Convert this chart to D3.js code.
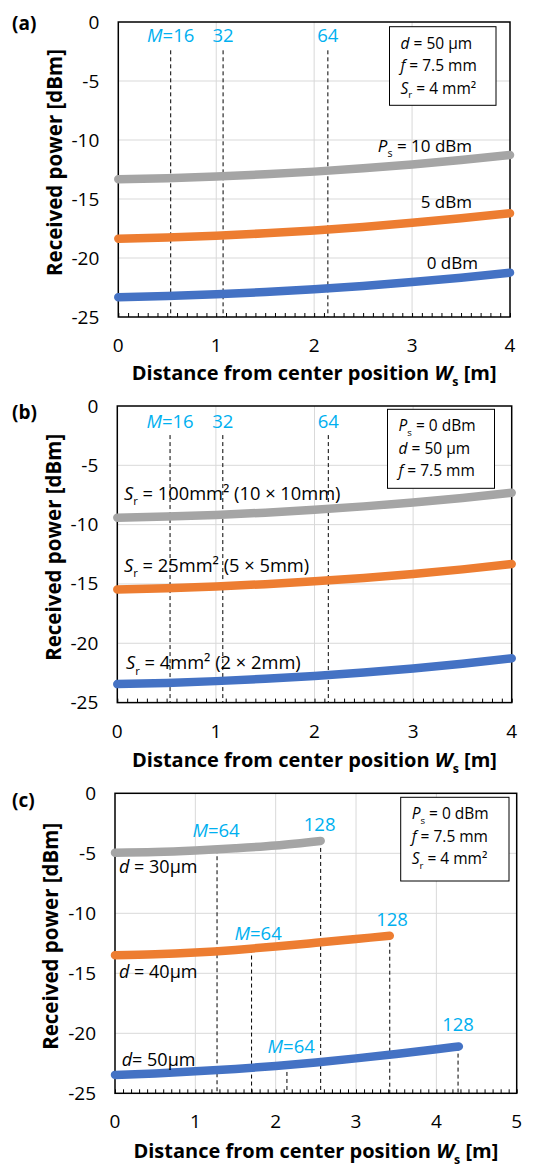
<!DOCTYPE html>
<html>
<head>
<meta charset="utf-8">
<script src="https://cdn.jsdelivr.net/npm/d3@7"></script>
<style>
  body { margin: 0; background: #fff; }
  svg { display: block; font-family: "Open Sans", "Noto Sans", sans-serif; }
</style>
</head>
<body>
<div id="chart"></div>
<script>
// ---- data ----
// (a) received power vs distance, for source power Ps = 0, 5, 10 dBm
const xsA = [0, 0.5, 1, 1.5, 2, 2.5, 3, 3.5, 4];
const aPs0 = [-23.33, -23.23, -23.08, -22.89, -22.65, -22.37, -22.04, -21.67, -21.24];
const aPs5 = [-18.36, -18.26, -18.11, -17.91, -17.66, -17.37, -17.02, -16.63, -16.21];
const aPs10 = [-13.33, -13.24, -13.10, -12.91, -12.68, -12.40, -12.07, -11.69, -11.27];
const mA = [0.535, 1.07, 2.14];               // M = 16, 32, 64
const mLabelsA = ["=16", "32", "64"];

// (b) receiver area Sr = 4, 25, 100 mm2
const xsB = [0, 0.5, 1, 1.5, 2, 2.5, 3, 3.5, 4];
const bSr4 = [-23.44, -23.34, -23.19, -22.99, -22.75, -22.46, -22.12, -21.73, -21.27];
const bSr25 = [-15.46, -15.36, -15.21, -15.02, -14.78, -14.50, -14.16, -13.77, -13.32];
const bSr100 = [-9.42, -9.32, -9.18, -8.99, -8.75, -8.46, -8.13, -7.75, -7.31];
const mB = [0.535, 1.07, 2.14];

// (c) core diameter d = 30, 40, 50 um
const xsC30 = [0, 0.5, 1, 1.5, 2, 2.56];
const cD30 = [-4.95, -4.89, -4.76, -4.58, -4.35, -3.97];
const xsC40 = [0, 0.5, 1, 1.5, 2, 2.5, 3, 3.42];
const cD40 = [-13.50, -13.42, -13.27, -13.05, -12.77, -12.46, -12.14, -11.87];
const xsC50 = [0, 0.5, 1, 1.5, 2, 2.5, 3, 3.5, 4, 4.28];
const cD50 = [-23.47, -23.34, -23.17, -22.97, -22.72, -22.43, -22.09, -21.72, -21.33, -21.10];
const mC30 = [1.27, 2.56];                    // M = 64, 128
const mC40 = [1.70, 3.42];
const mC50 = [2.14, 4.27];

const yTicks = [0, -5, -10, -15, -20, -25];

const GRAY = "#A5A5A5", ORANGE = "#ED7D31", BLUE = "#4472C4", CYAN = "#00B0F0";

const svg = d3.select("#chart").append("svg")
    .attr("width", 541)
    .attr("height", 1164);

// text with italic / subscript parts: [[text, "i"|"sub"|undefined], ...]
function rich(g, x, y, parts, size, opts = {}) {
    const t = g.append("text")
        .attr("x", x).attr("y", y)
        .attr("font-size", size)
        .attr("text-anchor", opts.anchor || "start")
        .attr("fill", opts.color || "#000")
        .attr("font-weight", opts.bold ? "bold" : null);
    let shift = 0;
    parts.forEach(p => {
        const s = t.append("tspan").text(p[0]);
        let dy;
        if (p[1] === "sub") {
            dy = size * 0.3 - shift; shift = size * 0.3;
            s.attr("font-size", size * 0.62);
        } else {
            dy = -shift; shift = 0;
            if (p[1] === "i") s.attr("font-style", "italic");
        }
        if (dy) s.attr("dy", dy);
    });
    return t;
}

function panel(cfg) {
    const g = svg.append("g");
    const x = d3.scaleLinear().domain([0, cfg.xMax]).range([cfg.left, cfg.right]);
    const y = d3.scaleLinear().domain([-25, 0]).range([cfg.bottom, cfg.top]);

    // gridlines
    g.append("g").selectAll("line.h").data(yTicks.slice(1, -1)).join("line")
        .attr("x1", cfg.left).attr("x2", cfg.right)
        .attr("y1", d => y(d)).attr("y2", d => y(d))
        .attr("stroke", "#D9D9D9").attr("stroke-width", 1);
    g.append("g").selectAll("line.v").data(d3.range(1, cfg.xMax)).join("line")
        .attr("x1", d => x(d)).attr("x2", d => x(d))
        .attr("y1", cfg.top).attr("y2", cfg.bottom)
        .attr("stroke", "#D9D9D9").attr("stroke-width", 1);

    // minor ticks every 0.1, pointing inward
    const xAxis = g.append("g")
        .attr("transform", `translate(0,${cfg.bottom})`)
        .call(d3.axisTop(x).tickValues(d3.range(0, cfg.xMax * 10 + 1).map(i => i / 10))
            .tickSize(4).tickFormat(""));
    xAxis.select(".domain").remove();
    xAxis.selectAll("line").attr("stroke", "#000").attr("stroke-width", 1);

    // frame
    g.append("rect")
        .attr("x", cfg.left).attr("y", cfg.top)
        .attr("width", cfg.right - cfg.left).attr("height", cfg.bottom - cfg.top)
        .attr("fill", "none").attr("stroke", "#000").attr("stroke-width", 1.5);

    // tick labels
    g.append("g").selectAll("text").data(yTicks).join("text")
        .attr("x", cfg.left - 19).attr("y", d => y(d) + 6.5)
        .attr("text-anchor", "end").attr("font-size", 19)
        .text(d => d);
    g.append("g").selectAll("text").data(d3.range(0, cfg.xMax + 1)).join("text")
        .attr("x", d => x(d)).attr("y", cfg.bottom + 35)
        .attr("text-anchor", "middle").attr("font-size", 19)
        .text(d => d);

    // axis titles
    rich(g, (cfg.left + cfg.right) / 2, cfg.bottom + cfg.xTitleDy,
        [["Distance from center position "], ["W", "i"], ["s", "sub"], [" [m]"]],
        20, {anchor: "middle", bold: true});
    g.append("text")
        .attr("transform", `translate(${cfg.yTitleX},${(cfg.top + cfg.bottom) / 2 - 7}) rotate(-90)`)
        .attr("text-anchor", "middle").attr("font-size", 20.5).attr("font-weight", "bold")
        .text("Received power [dBm]");

    // panel tag
    g.append("text").attr("x", 12).attr("y", cfg.tagY)
        .attr("font-size", 19).attr("font-weight", "bold").text(cfg.tag);

    // dashed markers
    cfg.markers.forEach(m => {
        g.append("line")
            .attr("x1", x(m.x)).attr("x2", x(m.x))
            .attr("y1", y(m.y0)).attr("y2", cfg.bottom)
            .attr("stroke", "#000").attr("stroke-width", 1)
            .attr("stroke-dasharray", "4,3");
    });

    // curves
    const line = d3.line().x(d => x(d[0])).y(d => y(d[1])).curve(d3.curveMonotoneX);
    cfg.series.forEach(s => {
        g.append("path")
            .datum(s.xs.map((v, i) => [v, s.ys[i]]))
            .attr("d", line)
            .attr("fill", "none").attr("stroke", s.color)
            .attr("stroke-width", 8.5).attr("stroke-linecap", "round");
    });

    // marker labels
    cfg.markers.forEach(m => {
        if (!m.label) return;
        rich(g, x(m.x) + (m.dx || 0), y(m.y0) - (m.dy || 0), m.label, 18.5,
            {anchor: "middle", color: CYAN});
    });

    // curve labels
    cfg.notes.forEach(n => rich(g, n.x, n.y, n.parts, n.size || 17, {anchor: n.anchor || "start"}));

    // parameter box
    const b = cfg.box;
    g.append("rect").attr("x", b.x).attr("y", b.y).attr("width", b.w).attr("height", b.h)
        .attr("fill", "#fff").attr("stroke", "#000").attr("stroke-width", 1);
    b.lines.forEach((ln, i) => rich(g, b.x + 11, b.y + 22 + i * 22.5, ln, 15.5));

    return {x, y};
}

function valueAt(xs, ys, v) {
    return d3.scaleLinear().domain(xs).range(ys)(v);
}

const lineD = [["d", "i"], [" = 50 µm"]];
const lineF = [["f", "i"], [" = 7.5 mm"]];
const lineS = [["S", "i"], ["r", "sub"], [" = 4 mm²"]];
const lineP = [["P", "i"], ["s", "sub"], [" = 0 dBm"]];

// (a)
panel({
    tag: "(a)", tagY: 30, left: 118.3, right: 510, top: 22, bottom: 317, xMax: 4,
    xTitleDy: 63, yTitleX: 62,
    series: [
        {xs: xsA, ys: aPs10, color: GRAY},
        {xs: xsA, ys: aPs5, color: ORANGE},
        {xs: xsA, ys: aPs0, color: BLUE}
    ],
    markers: mA.map((v, i) => ({
        x: v, y0: -2.4, dy: 8,
        label: i === 0 ? [["M", "i"], [mLabelsA[i]]] : [[mLabelsA[i]]]
    })),
    notes: [
        {x: 472, y: 151.7, anchor: "end", parts: [["P", "i"], ["s", "sub"], [" = 10 dBm"]]},
        {x: 472, y: 208, anchor: "end", parts: [["5 dBm"]]},
        {x: 478, y: 269, anchor: "end", parts: [["0 dBm"]]}
    ],
    box: {x: 389.5, y: 26.7, w: 106.5, h: 78.6, lines: [lineD, lineF, lineS]}
});

// (b)
panel({
    tag: "(b)", tagY: 419, left: 117.3, right: 511.7, top: 406, bottom: 702.6, xMax: 4,
    xTitleDy: 64, yTitleX: 61,
    series: [
        {xs: xsB, ys: bSr100, color: GRAY},
        {xs: xsB, ys: bSr25, color: ORANGE},
        {xs: xsB, ys: bSr4, color: BLUE}
    ],
    markers: mB.map((v, i) => ({
        x: v, y0: -2.45, dy: 7,
        label: i === 0 ? [["M", "i"], [mLabelsA[i]]] : [[mLabelsA[i]]]
    })),
    notes: [
        {x: 124, y: 500, size: 18.3, parts: [["S", "i"], ["r", "sub"], [" = 100mm² (10 × 10mm)"]]},
        {x: 124, y: 571.7, size: 18.3, parts: [["S", "i"], ["r", "sub"], [" = 25mm² (5 × 5mm)"]]},
        {x: 126, y: 669.3, size: 18.3, parts: [["S", "i"], ["r", "sub"], [" = 4mm² (2 × 2mm)"]]}
    ],
    box: {x: 387.5, y: 409.3, w: 107, h: 79, lines: [lineP, lineD, lineF]}
});

// (c)
const mLabC = [[["M", "i"], ["=64"]], [["128"]]];
panel({
    tag: "(c)", tagY: 806.7, left: 115, right: 516.7, top: 793.3, bottom: 1093.3, xMax: 5,
    xTitleDy: 65, yTitleX: 58,
    series: [
        {xs: xsC30, ys: cD30, color: GRAY},
        {xs: xsC40, ys: cD40, color: ORANGE},
        {xs: xsC50, ys: cD50, color: BLUE}
    ],
    markers: [
        {x: mC30[0], y0: valueAt(xsC30, cD30, mC30[0]), dy: 12.7, dx: -1, label: mLabC[0]},
        {x: mC30[1], y0: valueAt(xsC30, cD30, mC30[1]), dy: 10, dx: -1, label: mLabC[1]},
        {x: mC40[0], y0: valueAt(xsC40, cD40, mC40[0]), dy: 8.3, dx: 6.6, label: mLabC[0]},
        {x: mC40[1], y0: valueAt(xsC40, cD40, mC40[1]), dy: 10, dx: 2.3, label: mLabC[1]},
        {x: mC50[0], y0: valueAt(xsC50, cD50, mC50[0]), dy: 11.6, dx: 4.3, label: mLabC[0]},
        {x: mC50[1], y0: valueAt(xsC50, cD50, mC50[1]), dy: 16, dx: 0, label: mLabC[1]}
    ],
    notes: [
        {x: 119, y: 873.3, size: 18, parts: [["d", "i"], [" = 30µm"]]},
        {x: 119, y: 978.3, size: 18, parts: [["d", "i"], [" = 40µm"]]},
        {x: 121.7, y: 1066, size: 18, parts: [["d", "i"], ["= 50µm"]]}
    ],
    box: {x: 400.7, y: 797.3, w: 108.3, h: 83.7, lines: [lineP, lineF, lineS]}
});
</script>
</body>
</html>
